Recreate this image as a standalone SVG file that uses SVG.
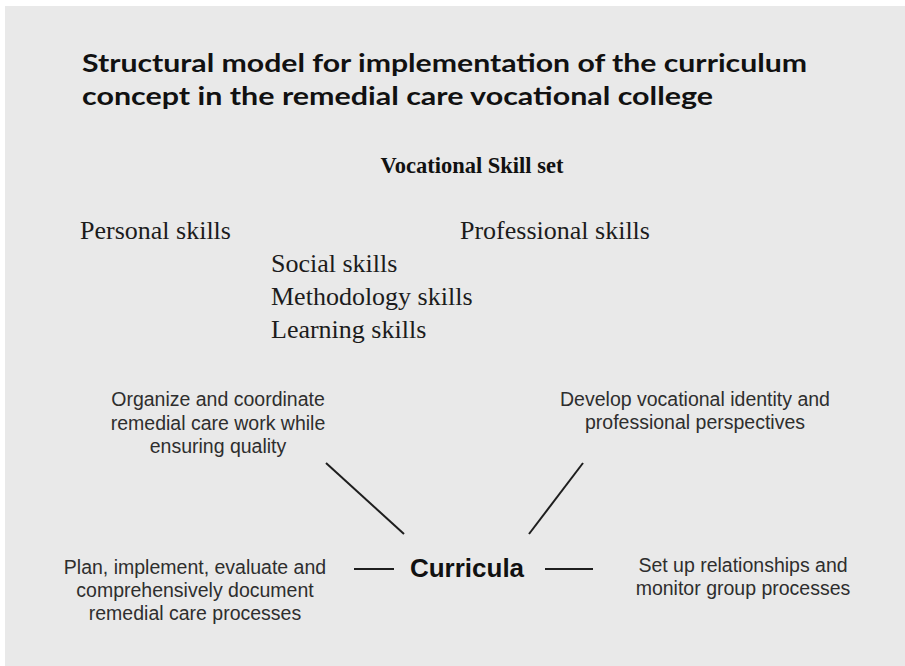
<svg xmlns="http://www.w3.org/2000/svg" width="905" height="666" viewBox="0 0 905 666">
<style>
.title{font-family:"Lato","Open Sans","Liberation Sans",sans-serif;font-weight:700;font-size:24px;fill:#111}
.head{font-family:"Liberation Serif","Times New Roman",serif;font-weight:700;font-size:22.5px;fill:#111}
.skill{font-family:"Liberation Serif","Times New Roman",serif;font-size:26px;fill:#1c1c1c}
.lbl{font-family:"Liberation Sans",Arial,sans-serif;font-size:19.5px;fill:#2e2e2e;text-anchor:middle}
.core{font-family:"Liberation Sans",Arial,sans-serif;font-size:26px;font-weight:700;fill:#111;text-anchor:middle}
.conn line{stroke:#1e1e1e;stroke-width:2;fill:none}
</style>
<rect x="0" y="0" width="905" height="666" fill="#ffffff"/>
<rect x="5" y="6" width="900" height="660" fill="#e9e9e9"/>
<g id="title">
<text class="title" x="82" y="72" textLength="725" lengthAdjust="spacingAndGlyphs">Structural model for implementation of the curriculum</text>
<text class="title" x="82" y="105" textLength="631" lengthAdjust="spacingAndGlyphs">concept in the remedial care vocational college</text>
</g>
<g id="skillset"><text class="head" x="472" y="173" text-anchor="middle">Vocational Skill set</text></g>
<g id="personal"><text class="skill" x="80" y="239">Personal skills</text></g>
<g id="professional"><text class="skill" x="460" y="239">Professional skills</text></g>
<g id="social"><text class="skill" x="271" y="272">Social skills</text></g>
<g id="methodology"><text class="skill" x="271" y="305">Methodology skills</text></g>
<g id="learning"><text class="skill" x="271" y="338">Learning skills</text></g>
<g id="organize">
<text class="lbl" x="218" y="406">Organize and coordinate</text>
<text class="lbl" x="218" y="430">remedial care work while</text>
<text class="lbl" x="218" y="453">ensuring quality</text>
</g>
<g id="develop">
<text class="lbl" x="695" y="406">Develop vocational identity and</text>
<text class="lbl" x="695" y="429">professional perspectives</text>
</g>
<g id="plan">
<text class="lbl" x="195" y="574">Plan, implement, evaluate and</text>
<text class="lbl" x="195" y="597">comprehensively document</text>
<text class="lbl" x="195" y="620">remedial care processes</text>
</g>
<g id="setup">
<text class="lbl" x="743" y="572">Set up relationships and</text>
<text class="lbl" x="743" y="595">monitor group processes</text>
</g>
<g id="curricula"><text class="core" x="467" y="577">Curricula</text></g>
<g id="connectors" class="conn">
<line x1="326" y1="463" x2="404" y2="534"/>
<line x1="583" y1="463" x2="529" y2="534"/>
<line x1="354" y1="569" x2="394" y2="569"/>
<line x1="545" y1="569" x2="593" y2="569"/>
</g>
</svg>
